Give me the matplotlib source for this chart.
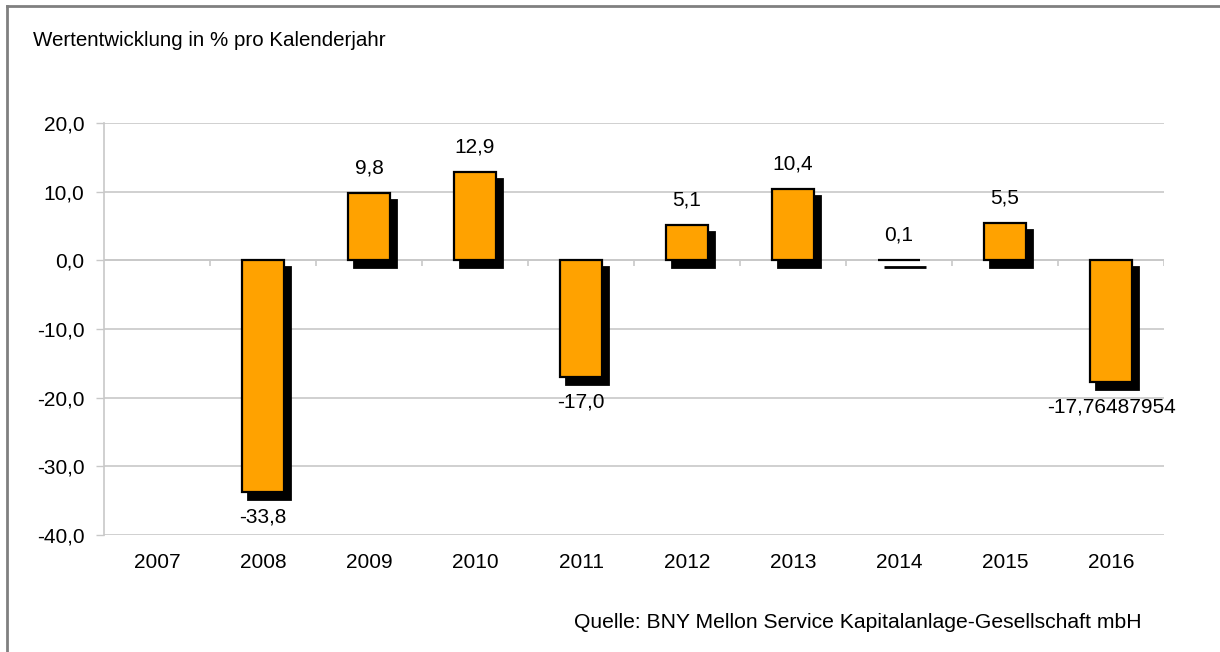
import numpy as np
import matplotlib
matplotlib.use('Agg')
import matplotlib.pyplot as plt
import matplotlib.transforms as mtransforms
from matplotlib.lines import Line2D

plt.rcParams['font.family'] = ['Liberation Sans', 'DejaVu Sans']

# Data
years = ['2007', '2008', '2009', '2010', '2011', '2012', '2013', '2014', '2015', '2016']
values = [np.nan, -33.8, 9.8, 12.9, -17.0, 5.1, 10.4, 0.1, 5.5, -17.76487954]
labels = ['', '-33,8', '9,8', '12,9', '-17,0', '5,1', '10,4', '0,1', '5,5', '-17,76487954']
yticks = [-40, -30, -20, -10, 0, 10, 20]

fig = plt.figure(figsize=(12.2, 6.52), dpi=100)
ax = fig.add_axes([104 / 1220, 1 - 535 / 652, 1060 / 1220, 412 / 652])

x = np.arange(len(years))
bar_col = '#ffa200'
grid_col = '#c8c8c8'
fs = 15

# shadow bars, shifted a few pixels right and down
shadow = mtransforms.ScaledTranslation(6 / 100, -7 / 100, fig.dpi_scale_trans)
ax.bar(x, values, width=0.39, color='black', edgecolor='black', linewidth=2,
       transform=ax.transData + shadow, zorder=2)
ax.bar(x, values, width=0.4, color=bar_col, edgecolor='black',
       linewidth=1.6, zorder=3)

for xi, v, lab in zip(x, values, labels):
    if np.isnan(v):
        continue
    off = 18 if v >= 0 else -18
    ax.annotate(lab, (xi, v), xytext=(0, off), textcoords='offset points',
                ha='center', va='center', fontsize=fs)

ax.set_xlim(-0.5, len(years) - 0.5)
ax.set_ylim(-40, 20)
ax.set_yticks(yticks)
ax.set_yticklabels([f'{t:.1f}'.replace('.', ',') for t in yticks])
ax.set_xticks(x)
ax.set_xticklabels(years)
ax.tick_params(axis='x', length=0, pad=13, labelsize=fs)
ax.tick_params(axis='y', length=6, width=1, color=grid_col, pad=8, labelsize=fs)

ax.yaxis.grid(True, color=grid_col, linewidth=1.2)
ax.set_axisbelow(True)
for s in ['top', 'right', 'bottom']:
    ax.spines[s].set_visible(False)
ax.spines['left'].set_color(grid_col)
ax.spines['left'].set_linewidth(1.2)

# category axis crossing at zero with small tick marks between years
ax.axhline(0, color=grid_col, linewidth=1.2, zorder=1)
bounds = np.arange(len(years) + 1) - 0.5
ax.vlines(bounds[1:], -0.8, 0, color=grid_col, linewidth=1.2, zorder=1)

# outer frame (top and left only)
fig.add_artist(Line2D([7 / 1220, 7 / 1220], [0, 1 - 6 / 652], color='#808080',
                      linewidth=2, transform=fig.transFigure))
fig.add_artist(Line2D([7 / 1220, 1], [1 - 6 / 652, 1 - 6 / 652], color='#808080',
                      linewidth=2, transform=fig.transFigure))

fig.text(33 / 1220, 1 - 40 / 652, 'Wertentwicklung in % pro Kalenderjahr',
         fontsize=14.8, va='center', ha='left')
fig.text(1141 / 1220, 1 - 622 / 652,
         'Quelle: BNY Mellon Service Kapitalanlage-Gesellschaft mbH',
         fontsize=15.2, va='center', ha='right')

fig.savefig('out.png', dpi=100, facecolor='white')
